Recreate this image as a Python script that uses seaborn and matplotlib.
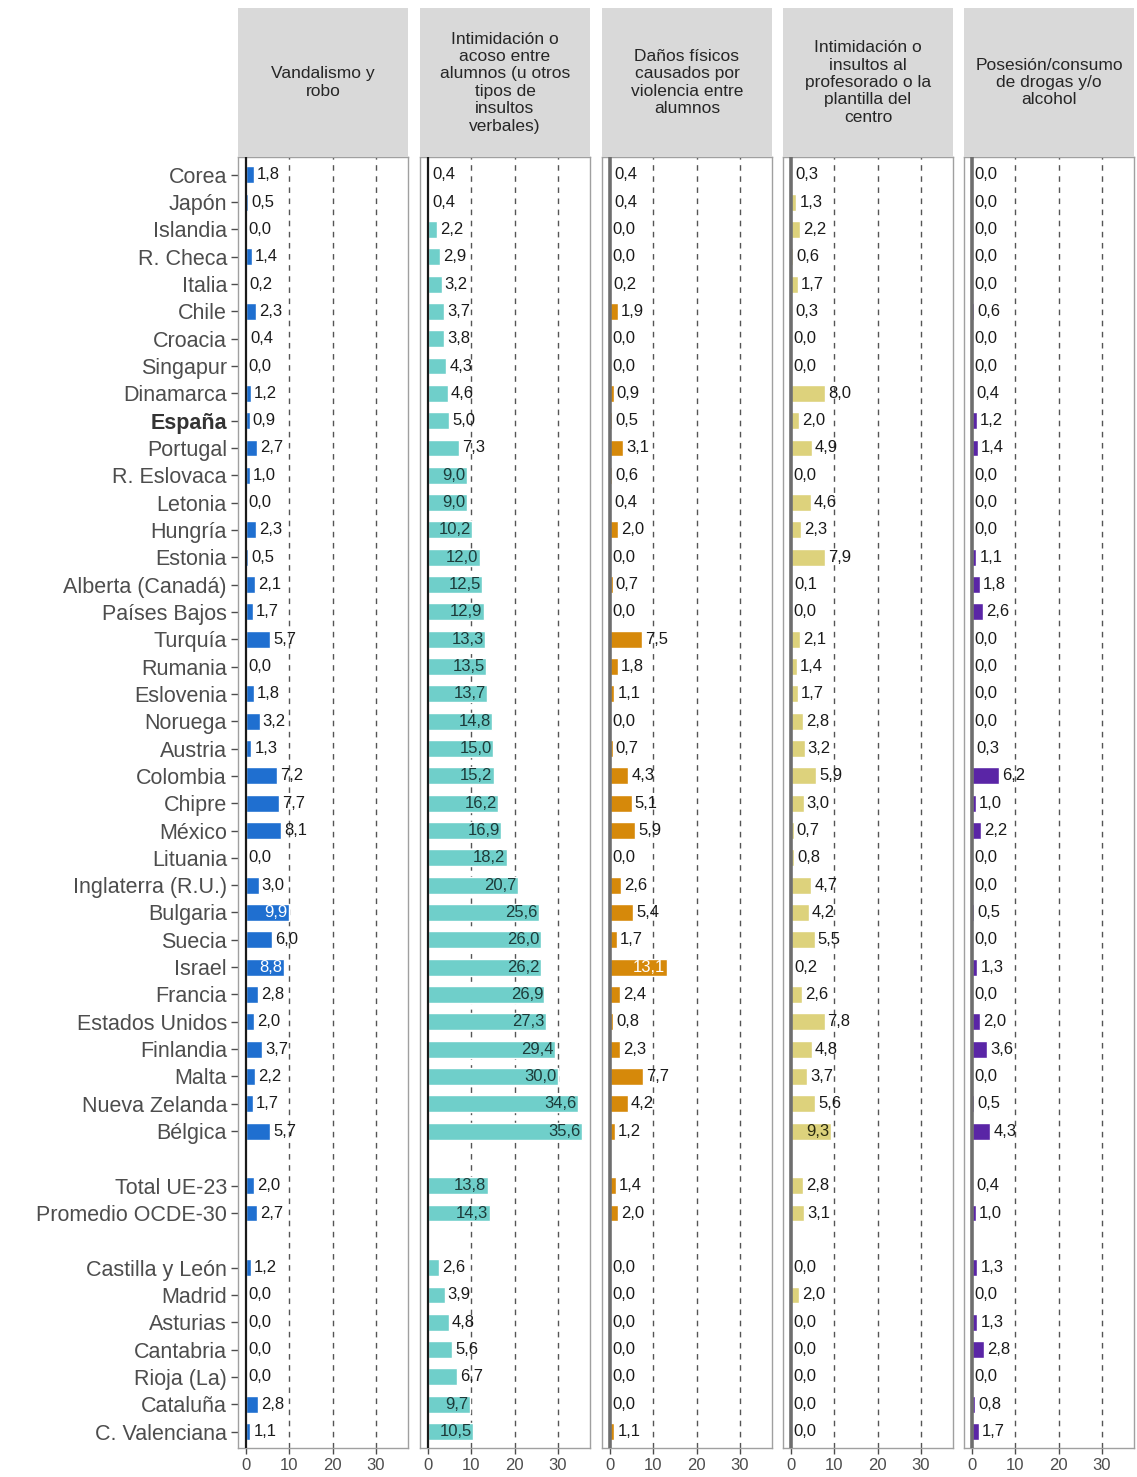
import numpy as np
import pandas as pd
import seaborn as sns
import matplotlib.pyplot as plt

paises = ['Corea', 'Japón', 'Islandia', 'R. Checa', 'Italia', 'Chile', 'Croacia', 'Singapur',
          'Dinamarca', 'España', 'Portugal', 'R. Eslovaca', 'Letonia', 'Hungría', 'Estonia',
          'Alberta (Canadá)', 'Países Bajos', 'Turquía', 'Rumania', 'Eslovenia', 'Noruega',
          'Austria', 'Colombia', 'Chipre', 'México', 'Lituania', 'Inglaterra (R.U.)', 'Bulgaria',
          'Suecia', 'Israel', 'Francia', 'Estados Unidos', 'Finlandia', 'Malta', 'Nueva Zelanda',
          'Bélgica', 'Total UE-23', 'Promedio OCDE-30', 'Castilla y León', 'Madrid', 'Asturias',
          'Cantabria', 'Rioja (La)', 'Cataluña', 'C. Valenciana']

vandalismo = [1.8, 0.5, 0.0, 1.4, 0.2, 2.3, 0.4, 0.0, 1.2, 0.9, 2.7, 1.0, 0.0, 2.3, 0.5, 2.1,
              1.7, 5.7, 0.0, 1.8, 3.2, 1.3, 7.2, 7.7, 8.1, 0.0, 3.0, 9.9, 6.0, 8.8, 2.8, 2.0,
              3.7, 2.2, 1.7, 5.7, 2.0, 2.7, 1.2, 0.0, 0.0, 0.0, 0.0, 2.8, 1.1]
acoso_alumnos = [0.4, 0.4, 2.2, 2.9, 3.2, 3.7, 3.8, 4.3, 4.6, 5.0, 7.3, 9.0, 9.0, 10.2, 12.0,
                 12.5, 12.9, 13.3, 13.5, 13.7, 14.8, 15.0, 15.2, 16.2, 16.9, 18.2, 20.7, 25.6,
                 26.0, 26.2, 26.9, 27.3, 29.4, 30.0, 34.6, 35.6, 13.8, 14.3, 2.6, 3.9, 4.8,
                 5.6, 6.7, 9.7, 10.5]
danos_fisicos = [0.4, 0.4, 0.0, 0.0, 0.2, 1.9, 0.0, 0.0, 0.9, 0.5, 3.1, 0.6, 0.4, 2.0, 0.0,
                 0.7, 0.0, 7.5, 1.8, 1.1, 0.0, 0.7, 4.3, 5.1, 5.9, 0.0, 2.6, 5.4, 1.7, 13.1,
                 2.4, 0.8, 2.3, 7.7, 4.2, 1.2, 1.4, 2.0, 0.0, 0.0, 0.0, 0.0, 0.0, 0.0, 1.1]
insultos_profesorado = [0.3, 1.3, 2.2, 0.6, 1.7, 0.3, 0.0, 0.0, 8.0, 2.0, 4.9, 0.0, 4.6, 2.3,
                        7.9, 0.1, 0.0, 2.1, 1.4, 1.7, 2.8, 3.2, 5.9, 3.0, 0.7, 0.8, 4.7, 4.2,
                        5.5, 0.2, 2.6, 7.8, 4.8, 3.7, 5.6, 9.3, 2.8, 3.1, 0.0, 2.0, 0.0, 0.0,
                        0.0, 0.0, 0.0]
drogas = [0.0, 0.0, 0.0, 0.0, 0.0, 0.6, 0.0, 0.0, 0.4, 1.2, 1.4, 0.0, 0.0, 0.0, 1.1, 1.8, 2.6,
          0.0, 0.0, 0.0, 0.0, 0.3, 6.2, 1.0, 2.2, 0.0, 0.0, 0.5, 0.0, 1.3, 0.0, 2.0, 3.6, 0.0,
          0.5, 4.3, 0.4, 1.0, 1.3, 0.0, 1.3, 2.8, 0.0, 0.8, 1.7]

titulos = ['Vandalismo y\nrobo',
           'Intimidación o\nacoso entre\nalumnos (u otros\ntipos de\ninsultos\nverbales)',
           'Daños físicos\ncausados por\nviolencia entre\nalumnos',
           'Intimidación o\ninsultos al\nprofesorado o la\nplantilla del\ncentro',
           'Posesión/consumo\nde drogas y/o\nalcohol']
series = [vandalismo, acoso_alumnos, danos_fisicos, insultos_profesorado, drogas]
colores = ['#1f6fd0', '#6fcfca', '#d6890a', '#ddd27c', '#5a25a6']
color_dentro = ['white', '#1d3b3a', 'white', '#2b2b10', 'white']
color_cero = ['#1a1a1a', '#1a1a1a', '#6e6e6e', '#6e6e6e', '#6e6e6e']

# row order with two blank separator rows
orden = paises[:36] + [' '] + paises[36:38] + ['  '] + paises[38:]
pos = {p: i for i, p in enumerate(orden)}

data = pd.DataFrame({
    'pais': np.tile(paises, 5),
    'panel': np.repeat(np.arange(5), len(paises)),
    'valor': np.concatenate(series),
})

sns.set_style('ticks')
plt.rcParams['font.family'] = ['Liberation Sans', 'DejaVu Sans']

fig = plt.figure(figsize=(11.37, 14.77), dpi=100)
W, H = 1137, 1477
lefts = [238, 420, 602, 783, 964]
pw = 170
top, bottom, head_top = 157, 1448, 8

for k in range(5):
    ax = fig.add_axes([lefts[k] / W, 1 - bottom / H, pw / W, (bottom - top) / H])
    hx = fig.add_axes([lefts[k] / W, 1 - top / H, pw / W, (top - head_top) / H])
    hx.set_facecolor('#d9d9d9')
    hx.set_xticks([])
    hx.set_yticks([])
    for s in hx.spines.values():
        s.set_visible(False)
    hx.text(0.5, 0.5, titulos[k], ha='center', va='center', fontsize=12.5,
            color='#262626', linespacing=1.2, transform=hx.transAxes)

    sub = data[data['panel'] == k]
    for xv in [10, 20, 30]:
        ax.axvline(xv, color='#555555', lw=1, ls=(0, (4, 4)), zorder=0)
    sns.barplot(data=sub, x='valor', y='pais', order=orden, orient='h', color=colores[k],
                saturation=1, width=0.62, errorbar=None, ax=ax, zorder=2)
    ax.axvline(0, color=color_cero[k], lw=1.6 if k < 2 else 2.6, zorder=3)

    for p, v in zip(sub['pais'], sub['valor']):
        txt = f'{v:.1f}'.replace('.', ',')
        if v > 8.5:
            ax.text(v - 0.3, pos[p], txt, ha='right', va='center', fontsize=12,
                    color=color_dentro[k], zorder=4)
        else:
            ax.text(v + 0.7, pos[p], txt, ha='left', va='center', fontsize=12,
                    color='#1a1a1a', zorder=4)

    ax.set_xlim(-1.78, 37.4)
    ax.set_ylim(len(orden) - 0.4, -0.65)
    ax.set_xticks([0, 10, 20, 30])
    ax.set_xticklabels(['0', '10', '20', '30'], fontsize=12, color='#4d4d4d')
    ax.tick_params(axis='x', bottom=True, length=4, width=1, color='#4d4d4d', pad=3)
    ax.set_xlabel('')
    ax.set_ylabel('')
    for s in ax.spines.values():
        s.set_visible(True)
        s.set_color('#a0a0a0')
        s.set_linewidth(1)
    if k == 0:
        ticks = [pos[p] for p in paises]
        ax.set_yticks(ticks)
        ax.set_yticklabels(paises, fontsize=15.5, color='#4d4d4d')
        ax.tick_params(axis='y', left=True, length=5, width=1, color='#4d4d4d', pad=3)
        for lab in ax.get_yticklabels():
            if lab.get_text() == 'España':
                lab.set_fontweight('bold')
                lab.set_color('#333333')
    else:
        ax.set_yticks([])

plt.savefig('out.png', dpi=100)
